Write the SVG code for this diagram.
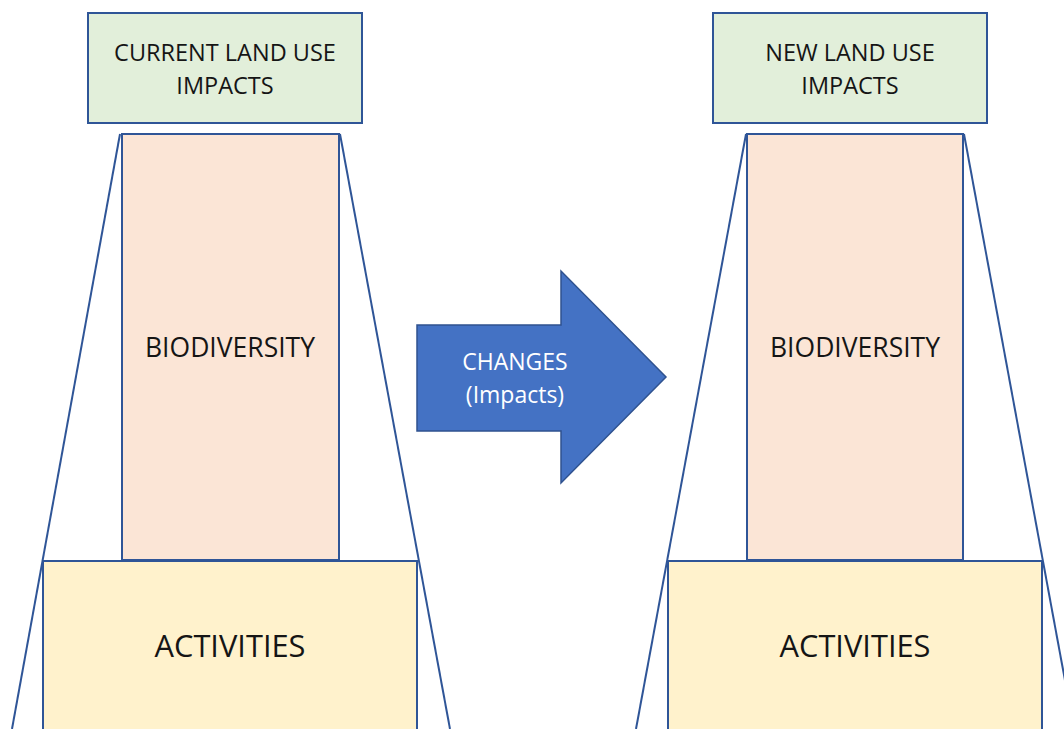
<svg xmlns="http://www.w3.org/2000/svg" width="1064" height="729" viewBox="0 0 1064 729">
<style>
.ln{stroke:#2F5597;stroke-width:2;fill:none}
.top{fill:#E2EFDA;stroke:#2F5597;stroke-width:2}
.bio{fill:#FBE5D6;stroke:#2F5597;stroke-width:2}
.act{fill:#FFF2CC;stroke:#2F5597;stroke-width:2}
.t{font-family:"Open Sans","Liberation Sans",sans-serif;fill:#151515;text-anchor:middle}
.w{font-family:"Open Sans","Liberation Sans",sans-serif;fill:#ffffff;text-anchor:middle}
</style>
<rect width="1064" height="729" fill="#ffffff"/>
<g id="connectors">
<line class="ln" x1="120" y1="134" x2="12" y2="729"/>
<line class="ln" x1="340" y1="134" x2="450" y2="729"/>
<line class="ln" x1="746" y1="134" x2="636" y2="729"/>
<line class="ln" x1="964" y1="134" x2="1074" y2="729"/>
</g>
<g id="current-impacts">
<rect class="top" x="88" y="13" width="274" height="110"/>
<text class="t" font-size="23.5" x="225" y="61">CURRENT LAND USE</text>
<text class="t" font-size="23.5" x="225" y="94">IMPACTS</text>
</g>
<g id="biodiversity-left">
<rect class="bio" x="122" y="134" width="217" height="426"/>
<text class="t" font-size="26.5" x="230" y="357">BIODIVERSITY</text>
</g>
<g id="activities-left">
<rect class="act" x="43" y="561" width="374" height="180"/>
<text class="t" font-size="30.8" x="230" y="657">ACTIVITIES</text>
</g>
<g id="changes-arrow">
<polygon points="417,325 561,325 561,271 666,377 561,483 561,431 417,431" fill="#4472C4" stroke="#2F528F" stroke-width="1.5"/>
<text class="w" font-size="23" x="515" y="370">CHANGES</text>
<text class="w" font-size="23" x="515" y="403">(Impacts)</text>
</g>
<g id="new-impacts">
<rect class="top" x="713" y="13" width="274" height="110"/>
<text class="t" font-size="23.5" x="850" y="61">NEW LAND USE</text>
<text class="t" font-size="23.5" x="850" y="94">IMPACTS</text>
</g>
<g id="biodiversity-right">
<rect class="bio" x="747" y="134" width="216" height="426"/>
<text class="t" font-size="26.5" x="855" y="357">BIODIVERSITY</text>
</g>
<g id="activities-right">
<rect class="act" x="668" y="561" width="374" height="180"/>
<text class="t" font-size="30.8" x="855" y="657">ACTIVITIES</text>
</g>
</svg>
